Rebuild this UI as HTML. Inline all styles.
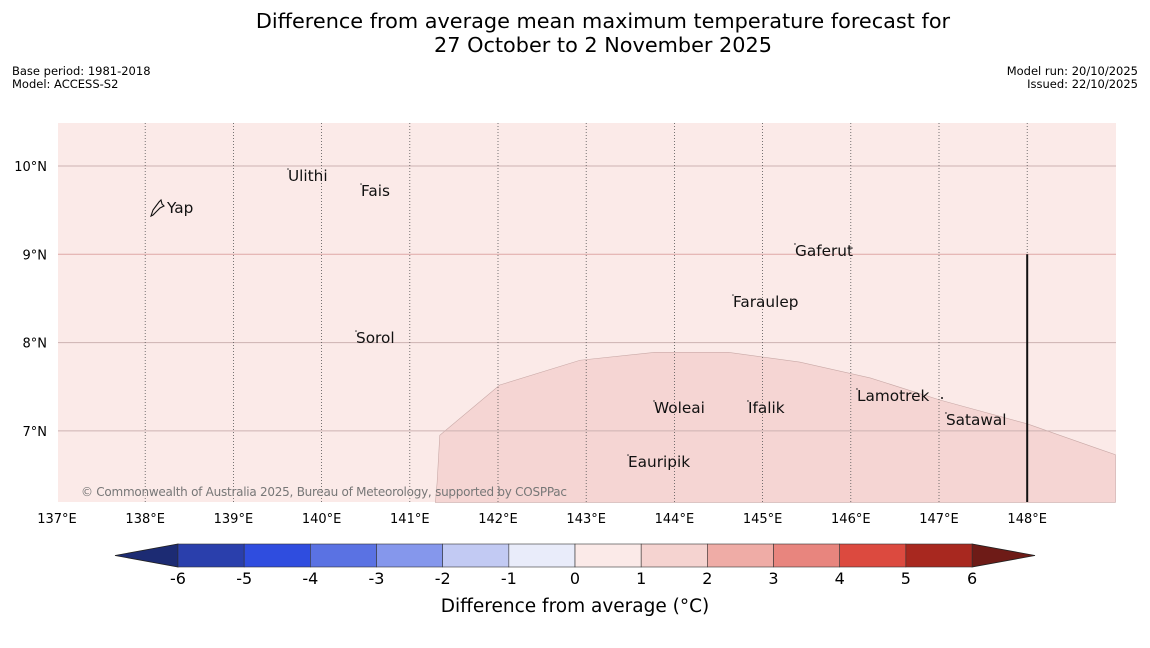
<!DOCTYPE html>
<html><head><meta charset="utf-8"><style>
body{margin:0;background:#fff;width:1150px;height:644px;overflow:hidden;font-family:"DejaVu Sans","Liberation Sans",sans-serif}
svg text{font-family:"DejaVu Sans","Liberation Sans",sans-serif}
</style></head><body>
<svg id="c" width="1150" height="644">
<text x="603" y="28" font-size="20.8" text-anchor="middle">Difference from average mean maximum temperature forecast for</text>
<text x="603" y="52" font-size="20.8" text-anchor="middle">27 October to 2 November 2025</text>
<text x="12" y="75" font-size="11.5">Base period: 1981-2018</text>
<text x="12" y="88" font-size="11.5">Model: ACCESS-S2</text>
<text x="1138" y="75" font-size="11.5" text-anchor="end">Model run: 20/10/2025</text>
<text x="1138" y="88" font-size="11.5" text-anchor="end">Issued: 22/10/2025</text>
<g id="map"></g>
<g id="cb"></g>
<text x="575" y="612" font-size="18.5" text-anchor="middle">Difference from average (°C)</text>
</svg>
<script>
const lonTicks=[137,138,139,140,141,142,143,144,145,146,147,148];
const latTicks=[7,8,9,10];
const anomLon=[141.29,141.31,141.34,142.02,142.93,143.78,144.61,145.42,146.22,147.01,148.0,148.37,148.77,149.0,149.0];
const anomLat=[6.19,6.42,6.95,7.52,7.80,7.89,7.89,7.78,7.60,7.35,7.08,6.95,6.81,6.73,6.19];
const places=["Yap","Ulithi","Fais","Gaferut","Faraulep","Sorol","Woleai","Ifalik","Lamotrek","Satawal","Eauripik"];
const placeLon=[138.247,139.619,140.447,145.367,144.664,140.390,143.769,144.834,146.070,147.079,143.474];
const placeLat=[9.468,9.830,9.660,8.981,8.403,7.995,7.203,7.203,7.339,7.067,6.591];
const cbEdges=[-6,-5,-4,-3,-2,-1,0,1,2,3,4,5,6];
const cbColors=["#2a3fac","#2f4ddf","#5a72e3","#8597ec","#c2caf3","#e9ecfa","#fbeae8","#f5d3d0","#efaca6","#e8857e","#dc4a3f","#a8281f"];
const cbLow="#1c2b73",cbHigh="#6e1b17";
const NS="http://www.w3.org/2000/svg";
function mk(p,t,a){const e=document.createElementNS(NS,t);for(const k in a)e.setAttribute(k,a[k]);p.appendChild(e);return e;}
const X0=58,X1=1116,Y0=123,Y1=502;
const x=lon=>57+(lon-137)*88.2;
const y=lat=>166+(10-lat)*88.3;
const map=document.getElementById('map');
let bg=mk(map,'rect',{x:X0,y:Y0,width:X1-X0,height:Y1-Y0,fill:'#fbeae8'});


let pts=anomLon.map((l,i)=>x(l)+','+y(anomLat[i])).join(' ');
let poly=mk(map,'polygon',{points:pts,fill:'#f5d5d3',stroke:'#c9a9a7','stroke-width':0.6});


latTicks.forEach(v=>{
 let l=mk(map,'line',{x1:X0,x2:X1,y1:y(v),y2:y(v),stroke:v==9?'#e0a8a6':'#cdb2b2','stroke-width':1});
 
 
 let t=mk(map,'text',{x:47,y:y(v)+5,'font-size':13,'text-anchor':'end'});t.textContent=v+'°N';
 
 
});
lonTicks.forEach(v=>{
 if(v>137){let l=mk(map,'line',{x1:x(v),x2:x(v),y1:Y0,y2:Y1,stroke:'#555','stroke-width':0.8,'stroke-dasharray':'1,2'});
 
 }
 let t=mk(map,'text',{x:x(v),y:523,'font-size':13,'text-anchor':'middle'});t.textContent=v+'°E';
 
 
});
let bl=mk(map,'line',{x1:x(148),x2:x(148),y1:y(9),y2:Y1,stroke:'#111','stroke-width':2});


places.forEach((p,i)=>{
 const px=x(placeLon[i]),py=y(placeLat[i]);
 if(i>0){let d=mk(map,'circle',{cx:px,cy:py-12,r:0.8,fill:'#333'});
 
 }
 let t=mk(map,'text',{x:px,y:py,'font-size':15.3,fill:'#111'});t.textContent=p;
 
 
});
let yi=mk(map,'path',{d:'M151,216 L153,210 L156,206 L159,202 L161,200 L162,204 L164,206 L160,208 L157,211 L153,215 Z',fill:'none',stroke:'#111','stroke-width':1.1});


let dt=mk(map,'circle',{cx:942,cy:398,r:1,fill:'#111'});


let cp=mk(map,'text',{x:81,y:496,'font-size':12,fill:'#777'});cp.textContent='© Commonwealth of Australia 2025, Bureau of Meteorology, supported by COSPPac';


cp.setAttribute('textLength','486');
const cb=document.getElementById('cb');
const cx=v=>178+(v+6)*66.17;
const CY0=544,CY1=567;
let lt=mk(cb,'polygon',{points:`${cx(-6)},${CY0} ${cx(-6)},${CY1} 115,555.5`,fill:cbLow,stroke:'#222','stroke-width':0.8});


let ht=mk(cb,'polygon',{points:`${cx(6)},${CY0} ${cx(6)},${CY1} 1035,555.5`,fill:cbHigh,stroke:'#222','stroke-width':0.8});


cbColors.forEach((c,i)=>{
 let r=mk(cb,'rect',{x:cx(cbEdges[i]),y:CY0,width:cx(cbEdges[i+1])-cx(cbEdges[i]),height:CY1-CY0,fill:c,stroke:'#333','stroke-width':0.6});
 
 
});
cbEdges.forEach(v=>{
 let t=mk(cb,'text',{x:cx(v),y:584,'font-size':16,'text-anchor':'middle'});t.textContent=v;
 
 
});
</script>
</body></html>
